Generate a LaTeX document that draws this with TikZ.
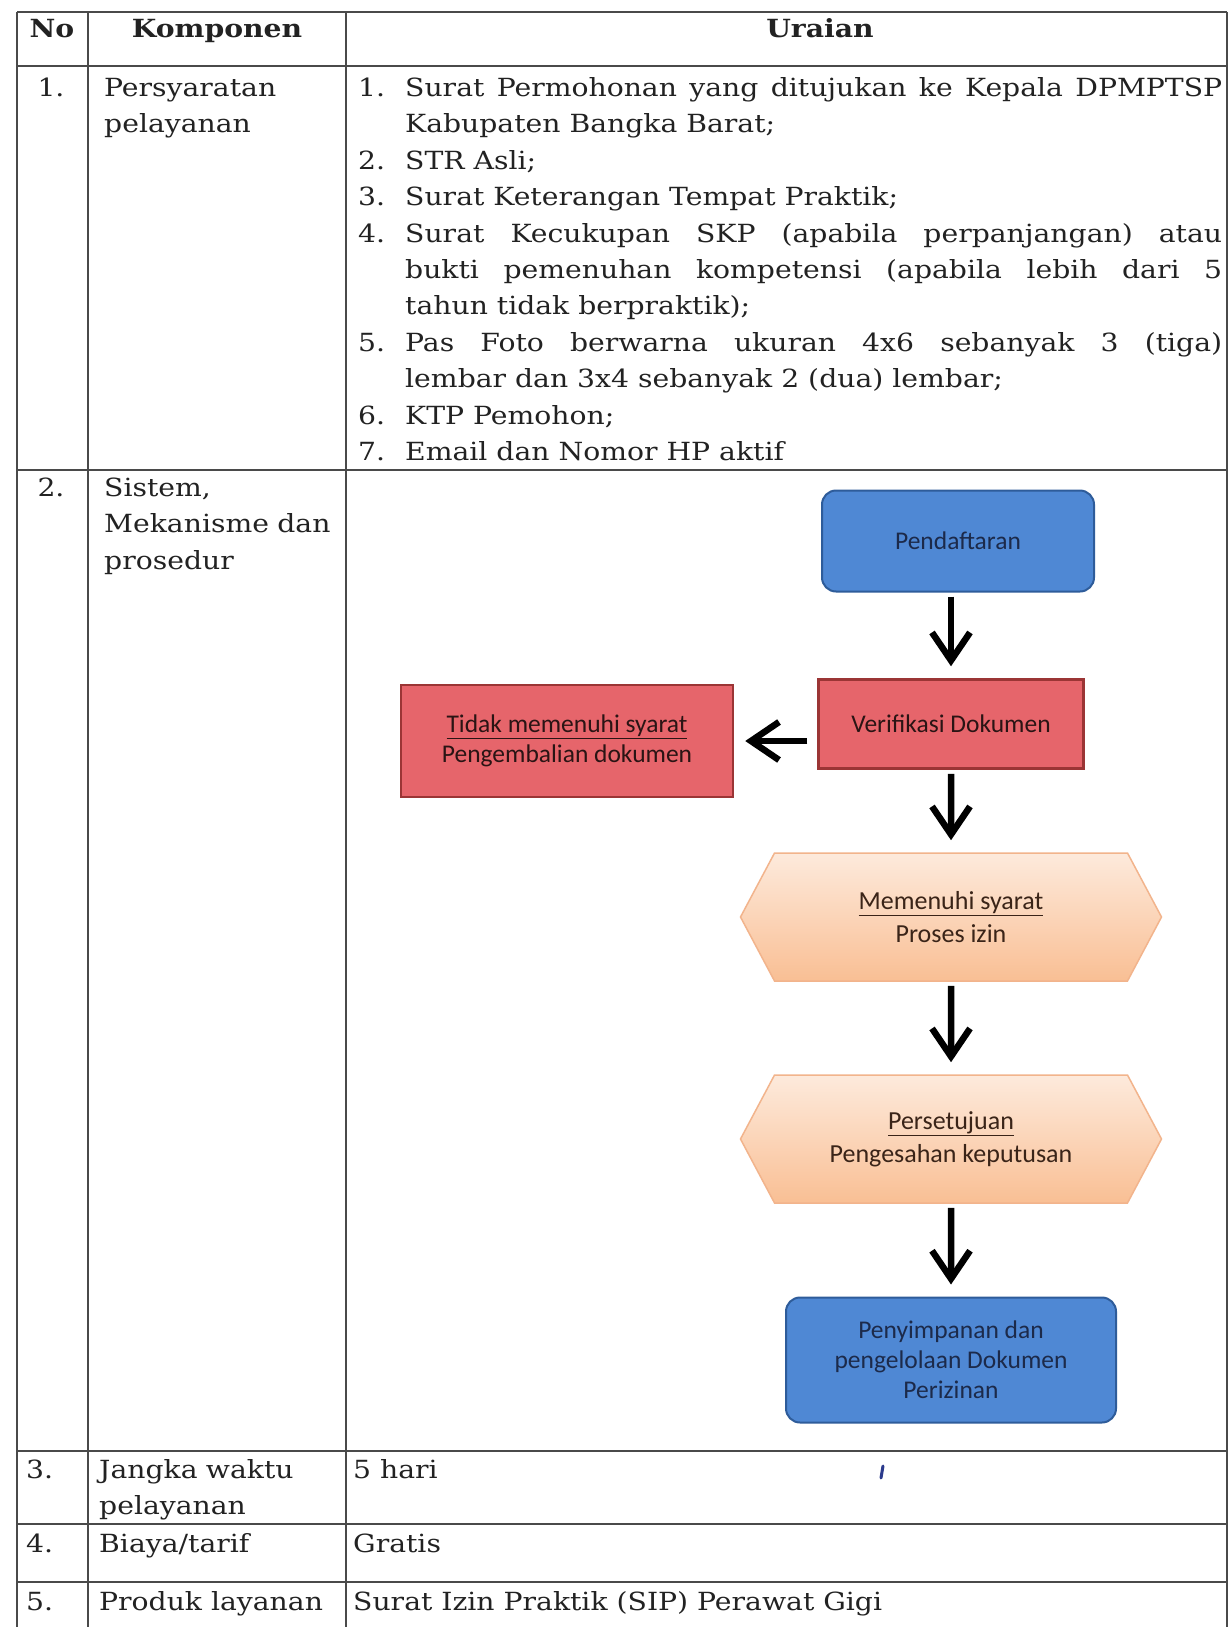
\documentclass[tikz,border=0pt]{standalone}
\usepackage{fontspec}
\setmainfont{DejaVu Serif}[FakeStretch=1.13]
\newfontfamily\calibri{Carlito}
\usetikzlibrary{arrows.meta,shapes.symbols,positioning}

\definecolor{rulegray}{HTML}{4A4A4A}
\definecolor{inkgray}{HTML}{222222}
\definecolor{bluefill}{HTML}{4F88D4}
\definecolor{blueline}{HTML}{2E5C9A}
\definecolor{navytext}{HTML}{1C2A4A}
\definecolor{redfill}{HTML}{E6656B}
\definecolor{redline}{HTML}{9B3535}
\definecolor{redtext}{HTML}{2A1414}
\definecolor{peachtop}{HTML}{FDEADC}
\definecolor{peachbot}{HTML}{F9BF94}
\definecolor{peachline}{HTML}{F2B48C}
\definecolor{browntext}{HTML}{3A2418}
\definecolor{penblue}{HTML}{2B3A8C}

\begin{document}
\begin{tikzpicture}[x=1pt,y=-1pt,
    txt/.style={inner sep=0pt,text=inkgray,font=\fontsize{25}{36.4}\selectfont},
    cell/.style={txt,anchor=base west},
    num/.style={txt,anchor=base},
    head/.style={txt,anchor=base,font=\fontsize{25}{36.4}\selectfont\bfseries},
    item/.style={cell,text width=817pt,align=justify},
    para/.style={cell,text width=250pt,align=left},
    rule/.style={draw=rulegray,line width=2.4pt},
    box/.style={inner sep=4pt,align=center,font=\calibri\fontsize{25.5}{30}\selectfont},
    terminal/.style={box,rectangle,rounded corners=14pt,draw=blueline,fill=bluefill,line width=2pt,text=navytext},
    check/.style={box,rectangle,draw=redline,fill=redfill,line width=2.5pt,text=redtext},
    stage/.style={box,signal,signal to=west and east,signal pointer angle=124,draw=peachline,
                  top color=peachtop,bottom color=peachbot,line width=1.5pt,
                  minimum width=421pt,minimum height=128pt,text=browntext,font=\calibri\fontsize{26}{33}\selectfont},
    flow/.style={-{Straight Barb[length=28pt,width=38pt]},line width=6.5pt,shorten <=4pt,shorten >=12pt}
  ]
  \useasboundingbox (0,0) rectangle (1229,1627);
  \fill[white] (0,0) rectangle (1229,1627);

  % table rules
  \foreach \y in {12,66,470,1451,1524,1582}
    \draw[rule] (17,\y) -- (1227,\y);
  \foreach \x in {17,88,346,1227}
    \draw[rule] (\x,12) -- (\x,1627);

  % header
  \node[head] (hno) at (52,38) {No};
  \node[head] (hkomp) at (217,38) {Komponen};
  \node[head] (hurai) at (820,38) {Uraian};

  % row 1
  \node[num] (n1) at (51,96.5) {1.};
  \node[para] (komp1) at (104,96.5) {Persyaratan\\pelayanan};
  \foreach \k/\n in {0/1,2/2,3/3,4/4,7/5,9/6,10/7}
    \node[cell] (no\n) at (358,96.5+36.4*\k) {\n.};
  \node[item] (syarat1) at (405,96.5) {Surat Permohonan yang ditujukan ke Kepala DPMPTSP\linebreak Kabupaten Bangka Barat;};
  \node[item] (syarat2) at (405,169.3) {STR Asli;};
  \node[item] (syarat3) at (405,205.7) {Surat Keterangan Tempat Praktik;};
  \node[item] (syarat4) at (405,242.1) {Surat Kecukupan SKP (apabila perpanjangan) atau\linebreak bukti pemenuhan kompetensi (apabila lebih dari 5\linebreak tahun tidak berpraktik);};
  \node[item] (syarat5) at (405,351.3) {Pas Foto berwarna ukuran 4x6 sebanyak 3 (tiga)\linebreak lembar dan 3x4 sebanyak 2 (dua) lembar;};
  \node[item] (syarat6) at (405,424.1) {KTP Pemohon;};
  \node[item] (syarat7) at (405,460.5) {Email dan Nomor HP aktif};

  % row 2
  \node[num] (n2) at (51,496.5) {2.};
  \node[para] (komp2) at (104,496.5) {Sistem,\\Mekanisme dan\\prosedur};

  \node[terminal,minimum width=272pt,minimum height=101pt] (pend) at (958,541) {Pendaftaran};
  \node[check,minimum width=265pt,minimum height=89pt] (verif) at (951,724) {Verifikasi Dokumen};
  \node[check,minimum width=332pt,minimum height=112pt] (tolak) at (567,741) {\underline{Tidak memenuhi syarat}\\Pengembalian dokumen};
  \node[stage] (proses) at (951,917) {\underline{Memenuhi syarat}\\Proses izin};
  \node[stage] (setuju) at (951,1139) {\underline{Persetujuan}\\Pengesahan keputusan};
  \node[terminal,minimum width=330pt,minimum height=125pt] (simpan) at (951,1360) {Penyimpanan dan\\pengelolaan Dokumen\\Perizinan};

  \path[flow] (pend.south -| verif) edge (verif)
              (verif) edge (proses)
              (proses) edge (setuju)
              (setuju) edge (simpan);
  \path[flow,shorten <=10pt,shorten >=11pt] (verif.west |- tolak.east) edge (tolak.east);

  % rows 3 to 5
  \node[cell] (n3) at (26,1478) {3.};
  \node[para] (komp3) at (99,1478) {Jangka waktu\\pelayanan};
  \node[cell] (urai3) at (353,1478) {5 hari};
  \draw[penblue,line width=3pt,line cap=round] (883,1466) -- (881,1478);

  \node[cell] (n4) at (26,1552) {4.};
  \node[cell] (komp4) at (99,1552) {Biaya/tarif};
  \node[cell] (urai4) at (353,1552) {Gratis};

  \node[cell] (n5) at (26,1610) {5.};
  \node[cell] (komp5) at (99,1610) {Produk layanan};
  \node[cell] (urai5) at (353,1610) {Surat Izin Praktik (SIP) Perawat Gigi};
\end{tikzpicture}
\end{document}
